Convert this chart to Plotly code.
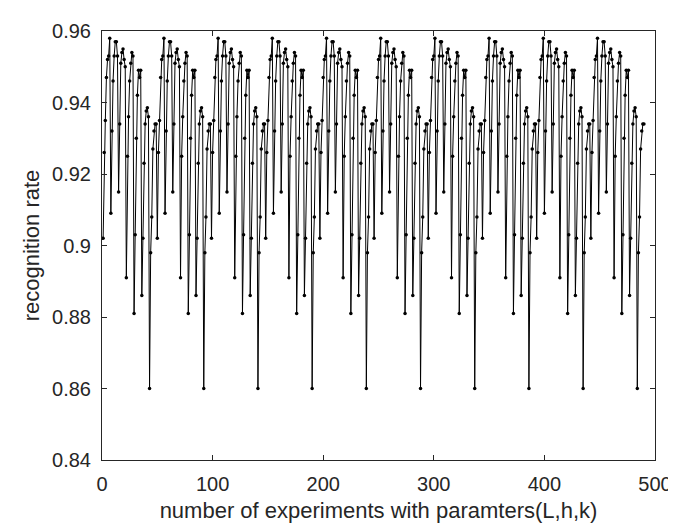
import plotly.graph_objects as go

# One parameter sweep over (h,k) = 49 experiments; the picture shows the same
# sweep repeated for each of 10 values of L.
sweep_values = [
    0.902, 0.926, 0.935, 0.947, 0.952, 0.953, 0.958,
    0.909, 0.932, 0.946, 0.953, 0.957, 0.957, 0.953,
    0.915, 0.934, 0.951, 0.954, 0.955, 0.952, 0.950,
    0.891, 0.925, 0.936, 0.946, 0.951, 0.954, 0.953,
    0.881, 0.903, 0.930, 0.942, 0.949, 0.947, 0.949,
    0.886, 0.902, 0.923, 0.934, 0.9376, 0.9385, 0.936,
    0.860, 0.898, 0.908, 0.927, 0.932, 0.934, 0.934,
]
n_L = 10
recognition_rate = sweep_values * n_L
experiment = list(range(1, len(recognition_rate) + 1))

x_ticks = [0, 100, 200, 300, 400, 500]
y_ticks = [0.84, 0.86, 0.88, 0.90, 0.92, 0.94, 0.96]
y_tick_labels = ["0.84", "0.86", "0.88", "0.9", "0.92", "0.94", "0.96"]

fig = go.Figure()
fig.add_trace(go.Scatter(
    x=experiment, y=recognition_rate, mode="lines+markers",
    line=dict(color="#000000", width=1),
    marker=dict(color="#000000", size=3.5, symbol="circle"),
    showlegend=False,
))

font_family = "Liberation Sans, Arial, sans-serif"
axis_common = dict(
    showline=True, linecolor="#262626", linewidth=1, mirror="allticks",
    ticks="inside", ticklen=5, tickcolor="#262626", showgrid=False,
    zeroline=False, tickfont=dict(family=font_family, size=20, color="#262626"),
)
fig.update_xaxes(range=[0, 500], tickvals=x_ticks, ticklabelstandoff=6,
                 title=dict(text="number of experiments with paramters(L,h,k)",
                            font=dict(family=font_family, size=22, color="#262626"),
                            standoff=8),
                 **axis_common)
fig.update_yaxes(range=[0.84, 0.96], tickvals=y_ticks, ticktext=y_tick_labels,
                 ticklabelstandoff=6,
                 title=dict(text="recognition rate",
                            font=dict(family=font_family, size=22, color="#262626"),
                            standoff=6),
                 **axis_common)
fig.update_layout(
    width=676, height=523,
    margin=dict(l=94, r=19, t=21, b=71),
    paper_bgcolor="white", plot_bgcolor="white",
)
fig.write_html("out.html")
